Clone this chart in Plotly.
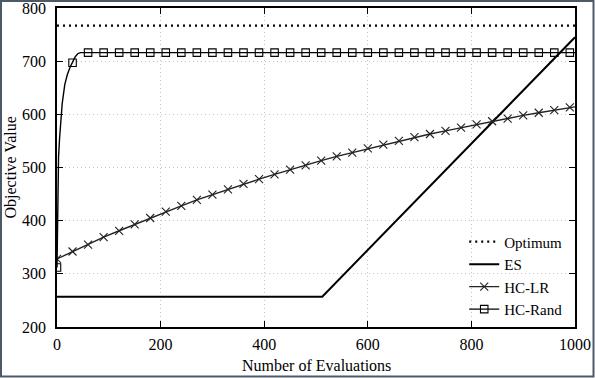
import plotly.graph_objects as go

# ---- data ----
optimum_x = [0, 1000]
optimum_y = [767, 767]

es_x = [0, 512, 1000]
es_y = [257, 257, 745]

hclr_x = [0, 30, 60, 90, 120, 150, 180, 210, 240, 270, 300, 330, 360, 390, 420, 450, 480,
          510, 540, 570, 600, 630, 660, 690, 720, 750, 780, 810, 840, 870, 900, 930, 960, 990, 1000]
hclr_y = [328, 342, 355, 369, 381, 393, 405, 417, 428, 439, 449, 459, 469, 478, 487, 496, 504,
          513, 521, 528, 536, 543, 550, 557, 563, 569, 575, 581, 587, 592, 598, 603, 608, 613, 614]

hcr_x = [0, 1, 2, 3, 5, 7, 10, 15, 20, 25, 30, 35, 40, 45, 50, 60, 90, 120, 150, 180, 210, 240,
         270, 300, 330, 360, 390, 420, 450, 480, 510, 540, 570, 600, 630, 660, 690, 720, 750,
         780, 810, 840, 870, 900, 930, 960, 990, 1000]
hcr_y = [312, 420, 480, 520, 555, 585, 620, 656, 675, 688, 697, 708, 714, 716, 716, 716, 716,
         716, 716, 716, 716, 716, 716, 716, 716, 716, 716, 716, 716, 716, 716, 716, 716, 716,
         716, 716, 716, 716, 716, 716, 716, 716, 716, 716, 716, 716, 716, 716]
marker_step = 30

x_ticks = [0, 200, 400, 600, 800, 1000]
y_ticks = [200, 300, 400, 500, 600, 700, 800]

x_title = "Number of Evaluations"
y_title = "Objective Value"

FONT = "Liberation Serif, Tinos, 'Times New Roman', 'DejaVu Serif', serif"
BLACK = "#000000"
DARK = "#222222"

hclr_mx = [x for x in hclr_x if x % marker_step == 0]
hclr_my = [y for x, y in zip(hclr_x, hclr_y) if x % marker_step == 0]
hcr_mx = [x for x in hcr_x if x % marker_step == 0]
hcr_my = [y for x, y in zip(hcr_x, hcr_y) if x % marker_step == 0]

fig = go.Figure()

fig.add_trace(go.Scatter(x=optimum_x, y=optimum_y, mode="lines", name="Optimum",
                         line=dict(color=BLACK, width=2.2, dash="2px,4px")))
fig.add_trace(go.Scatter(x=es_x, y=es_y, mode="lines", name="ES",
                         line=dict(color=BLACK, width=2)))
# HC-LR
fig.add_trace(go.Scatter(x=hclr_x, y=hclr_y, mode="lines", showlegend=False,
                         line=dict(color=DARK, width=1.4)))
fig.add_trace(go.Scatter(x=hclr_mx, y=hclr_my, mode="markers", showlegend=False,
                         marker=dict(symbol="x-thin-open", size=8, color=DARK,
                                     line=dict(width=1.1, color=DARK))))
fig.add_trace(go.Scatter(x=[None], y=[None], mode="lines+markers", name="HC-LR",
                         line=dict(color=DARK, width=1.4),
                         marker=dict(symbol="x-thin-open", size=8, color=DARK,
                                     line=dict(width=1.1, color=DARK))))
# HC-Rand
fig.add_trace(go.Scatter(x=hcr_x, y=hcr_y, mode="lines", showlegend=False,
                         line=dict(color=BLACK, width=1.4)))
fig.add_trace(go.Scatter(x=hcr_mx, y=hcr_my, mode="markers", showlegend=False,
                         marker=dict(symbol="square-open", size=7.5, color=BLACK,
                                     line=dict(width=1.1, color=BLACK))))
fig.add_trace(go.Scatter(x=[None], y=[None], mode="lines+markers", name="HC-Rand",
                         line=dict(color=BLACK, width=1.4),
                         marker=dict(symbol="square-open", size=7.5, color=BLACK,
                                     line=dict(width=1.1, color=BLACK))))

axis_common = dict(
    showline=True, linecolor=BLACK, linewidth=1.5, mirror="ticks",
    ticks="inside", ticklen=6, tickcolor=BLACK, tickwidth=1,
    showgrid=True, gridcolor="#c4c4c4", griddash="1px,3px", gridwidth=1,
    zeroline=False, automargin=False, ticklabeloverflow="allow",
    tickfont=dict(family=FONT, size=16, color=BLACK),
)

fig.update_xaxes(range=[0, 1000], tickvals=x_ticks, ticktext=[str(v) for v in x_ticks],
                 ticklabelstandoff=2, **axis_common)
fig.update_yaxes(range=[200, 800], tickvals=y_ticks, ticktext=[str(v) for v in y_ticks],
                 ticklabelstandoff=6, **axis_common)

L, R, T, B = 57, 20, 8, 51
W, H = 595, 378
pw, ph = W - L - R, H - T - B

# axis titles
fig.add_annotation(text=x_title, xref="paper", yref="paper", x=0.5, y=-(B - 2) / ph,
                   xanchor="center", yanchor="bottom", showarrow=False,
                   font=dict(family=FONT, size=16, color=BLACK))
fig.add_annotation(text=y_title, xref="paper", yref="paper", x=-(L - 10) / pw, y=0.5,
                   xanchor="center", yanchor="middle", textangle=-90, showarrow=False,
                   font=dict(family=FONT, size=16, color=BLACK))

# outer frame of the picture
fig.add_shape(type="rect", xref="paper", yref="paper",
              x0=-(L - 1) / pw, x1=1 + (R - 1.5) / pw, y0=-(B - 1.5) / ph, y1=1 + (T - 1) / ph,
              line=dict(color="#4c5a68", width=2), layer="above")

fig.update_layout(
    width=W, height=H,
    margin=dict(l=L, r=R, t=T, b=B, autoexpand=False),
    paper_bgcolor="white", plot_bgcolor="white",
    font=dict(family=FONT, size=16, color=BLACK),
    legend=dict(x=0.985, y=0.005, xanchor="right", yanchor="bottom",
                bgcolor="rgba(0,0,0,0)", borderwidth=0,
                font=dict(family=FONT, size=15, color=BLACK),
                tracegroupgap=0, itemwidth=30),
)

fig.write_html("out.html", config={"displayModeBar": False},
               post_script="document.body.style.margin='0';document.body.style.padding='0';")
